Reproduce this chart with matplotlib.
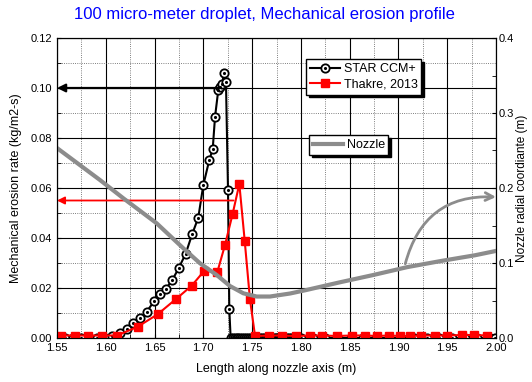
import matplotlib
matplotlib.use("Agg")
import matplotlib.pyplot as plt
from matplotlib.ticker import MultipleLocator, FormatStrFormatter
from matplotlib.legend_handler import HandlerTuple

plt.rcParams['font.family'] = ['Liberation Sans', 'DejaVu Sans']

# STAR CCM+ erosion rate (kg/m2-s)
star_x = [1.558, 1.566, 1.575, 1.583, 1.591, 1.599, 1.6061, 1.6146, 1.6214, 1.6282,
          1.6351, 1.6419, 1.6497, 1.6556, 1.6617, 1.6682, 1.6747, 1.6819, 1.6887, 1.6948,
          1.700, 1.7061, 1.7096, 1.7120, 1.7153, 1.7171, 1.7194, 1.7212, 1.7232, 1.7253,
          1.7266,
          1.728, 1.730, 1.732, 1.734, 1.736, 1.738, 1.740, 1.742, 1.744, 1.746,
          1.748, 1.750, 1.752, 1.754, 1.756, 1.758, 1.760, 1.762, 1.764, 1.766,
          1.768, 1.770, 1.772, 1.774, 1.776, 1.778, 1.780, 1.782, 1.784, 1.786,
          1.788, 1.790, 1.792, 1.794, 1.796, 1.798, 1.800,
          1.812, 1.825, 1.838, 1.851, 1.864, 1.877, 1.890, 1.903, 1.916, 1.929,
          1.942, 1.955, 1.968, 1.981, 1.994, 1.999]
star_y = [0, 0, 0, 0, 0, 0, 0.0009, 0.0020, 0.0037, 0.0061,
          0.0081, 0.0105, 0.0148, 0.0175, 0.0197, 0.0232, 0.0279, 0.0337, 0.0417, 0.0481,
          0.0612, 0.0712, 0.0755, 0.0885, 0.0991, 0.1004, 0.1017, 0.1061, 0.1025, 0.0592,
          0.0115,
          0, 0, 0, 0, 0, 0, 0, 0, 0, 0,
          0, 0, 0, 0, 0, 0, 0, 0, 0, 0,
          0, 0, 0, 0, 0, 0, 0, 0, 0, 0,
          0, 0, 0, 0, 0, 0, 0,
          0, 0, 0, 0, 0, 0, 0, 0, 0, 0,
          0, 0, 0, 0, 0, 0]

# Thakre, 2013
thakre_x = [1.554, 1.568, 1.582, 1.596, 1.6116, 1.6327, 1.6532, 1.672, 1.688, 1.701,
            1.7143, 1.7222, 1.730, 1.7369, 1.7424, 1.7478, 1.753, 1.767, 1.781, 1.795,
            1.809, 1.822, 1.837, 1.852, 1.866, 1.878, 1.890, 1.902, 1.912, 1.923,
            1.937, 1.950, 1.965, 1.977, 1.991]
thakre_y = [0.001, 0.001, 0.001, 0.001, 0.001, 0.0045, 0.0095, 0.0156, 0.0209, 0.0269,
            0.0263, 0.0372, 0.0496, 0.0616, 0.0389, 0.0155, 0.0008, 0.001, 0.001, 0.0008,
            0.001, 0.001, 0.0008, 0.001, 0.001, 0.0008, 0.001, 0.0008, 0.0008, 0.001,
            0.001, 0.001, 0.0012, 0.0012, 0.001]

# nozzle radial coordinate (m), right axis
nozzle_x = [1.55, 1.594, 1.618, 1.6522, 1.6795, 1.6966, 1.7137, 1.7273, 1.741, 1.7547,
            1.7683, 1.7888, 1.8046, 1.8394, 1.8742, 1.909, 1.9437, 1.9784, 2.0]
nozzle_r = [0.2533, 0.2107, 0.1863, 0.1529, 0.1196, 0.0996, 0.084, 0.0693, 0.0596, 0.0553,
            0.0553, 0.0593, 0.0637, 0.0741, 0.084, 0.0945, 0.1027, 0.1103, 0.1161]

fig = plt.figure(figsize=(5.32, 3.82), dpi=100)
ax = fig.add_axes([57 / 532, 1 - 338 / 382, 439 / 532, 300 / 382])
ax2 = ax.twinx()

ax.set_xlim(1.55, 2.00)
ax.set_ylim(0, 0.12)
ax2.set_ylim(0, 0.4)

ax.xaxis.set_major_locator(MultipleLocator(0.05))
ax.xaxis.set_minor_locator(MultipleLocator(0.025))
ax.yaxis.set_major_locator(MultipleLocator(0.02))
ax.yaxis.set_minor_locator(MultipleLocator(0.01))
ax.xaxis.set_major_formatter(FormatStrFormatter('%.2f'))
ax.yaxis.set_major_formatter(FormatStrFormatter('%.2f'))
ax2.yaxis.set_major_locator(MultipleLocator(0.1))
ax2.yaxis.set_minor_locator(MultipleLocator(0.05))
ax2.yaxis.set_major_formatter(FormatStrFormatter('%.1f'))

ax.grid(which='major', color='black', linewidth=0.8, zorder=0)
ax.grid(which='minor', color='#555555', linewidth=0.6, linestyle=':', zorder=0)
ax.set_axisbelow(True)

ax.tick_params(which='both', direction='in', labelsize=8, length=3)
ax2.tick_params(which='both', direction='in', labelsize=8, length=3, pad=2)

star_line, = ax.plot(star_x, star_y, '-o', color='black', linewidth=1.5,
                     markersize=6, markerfacecolor='white', markeredgecolor='black',
                     markeredgewidth=1.3, zorder=3)
star_dot, = ax.plot(star_x, star_y, '.', color='black', markersize=2.5, zorder=4)
thakre_line, = ax.plot(thakre_x, thakre_y, '-s', color='red', linewidth=1.5,
                       markersize=6, zorder=5)

nozzle_line, = ax2.plot(nozzle_x, nozzle_r, color='#8c8c8c', linewidth=3, zorder=2)

# arrows pointing to the axes each curve belongs to
ax.annotate('', xy=(1.55, 0.10), xytext=(1.716, 0.10),
            arrowprops=dict(arrowstyle='-|>', color='black', lw=1.6,
                            mutation_scale=12, shrinkA=0, shrinkB=0), zorder=6)
ax.annotate('', xy=(1.55, 0.055), xytext=(1.731, 0.055),
            arrowprops=dict(arrowstyle='-|>', color='red', lw=1.3,
                            mutation_scale=11, shrinkA=0, shrinkB=0), zorder=6)
ax2.annotate('', xy=(2.0, 0.188), xytext=(1.907, 0.099),
             arrowprops=dict(arrowstyle='->', color='#8c8c8c', lw=2,
                             mutation_scale=14, shrinkA=0, shrinkB=0,
                             connectionstyle='arc3,rad=-0.4'),
             annotation_clip=False)

ax.set_xlabel('Length along nozzle axis (m)', fontsize=9, labelpad=7)
ax.set_ylabel('Mechanical erosion rate (kg/m2-s)', fontsize=9, labelpad=6)
ax2.set_ylabel('Nozzle radial coordiante (m)', fontsize=8.5, rotation=90, va='center')
ax2.yaxis.set_label_coords(1.06, 0.5)

fig.text(264 / 532, 1 - 14 / 382, '100 micro-meter droplet, Mechanical erosion profile',
         color='blue', fontsize=12, ha='center', va='center')

leg1 = ax2.legend([(star_line, star_dot), thakre_line], ['STAR CCM+', 'Thakre, 2013'],
                  handler_map={tuple: HandlerTuple(ndivide=1, pad=0)},
                  loc='upper left', bbox_to_anchor=(0.553, 0.95), fontsize=9,
                  fancybox=False, framealpha=1, edgecolor='black',
                  shadow={'color': 'black', 'alpha': 1},
                  handlelength=2.4, handletextpad=0.3, borderpad=0.3, labelspacing=0.3)
leg1.get_frame().set_linewidth(1)
ax2.add_artist(leg1)
leg2 = ax2.legend([nozzle_line], ['Nozzle'], loc='upper left',
                  bbox_to_anchor=(0.56, 0.697), fontsize=9,
                  fancybox=False, framealpha=1, edgecolor='black',
                  shadow={'color': 'black', 'alpha': 1},
                  handlelength=2.4, handletextpad=0.3, borderpad=0.3)
leg2.get_frame().set_linewidth(1)

fig.savefig('out.png', dpi=100)
